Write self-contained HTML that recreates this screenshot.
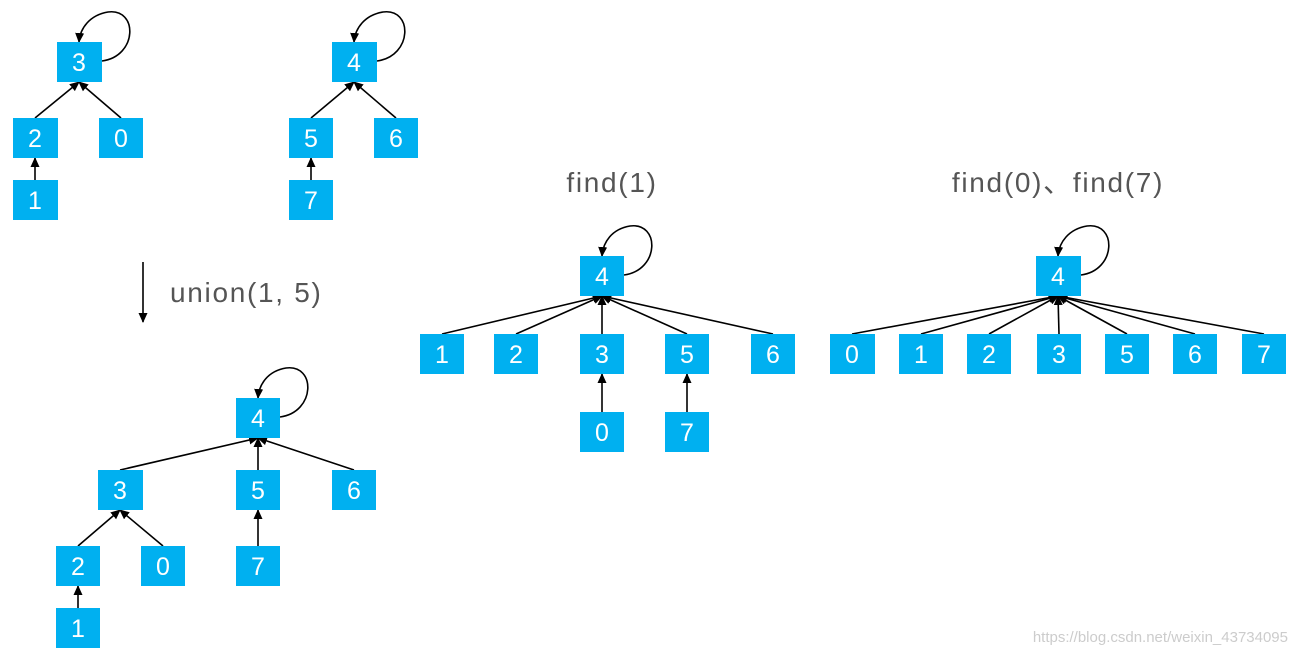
<!DOCTYPE html>
<html><head><meta charset="utf-8"><style>
html,body{margin:0;padding:0;background:#fff;}
svg{display:block}
.b{fill:#00b0f0}
.t{fill:#fff;font-family:"Liberation Sans",sans-serif;font-size:25px;text-anchor:middle}
.e{stroke:#000;stroke-width:1.6;fill:none;marker-end:url(#a)}
.l{font-family:"Liberation Sans","Noto Sans CJK SC",sans-serif;font-size:28px;letter-spacing:1.7px;fill:#555}
</style></head><body>
<svg width="1296" height="658" viewBox="0 0 1296 658">
<defs><marker id="a" markerWidth="10" markerHeight="10" refX="9" refY="5" orient="auto" markerUnits="userSpaceOnUse"><path d="M0,0.5 L10,5 L0,9.5 z" fill="#000"/></marker></defs>
<g class="e">
<line x1="35" y1="118" x2="79" y2="82"/><line x1="121" y1="118" x2="79" y2="82"/><line x1="35" y1="180" x2="35" y2="158"/>
<line x1="311" y1="118" x2="354" y2="82"/><line x1="396" y1="118" x2="354" y2="82"/><line x1="311" y1="180" x2="311" y2="158"/>
<line x1="120" y1="470" x2="258" y2="438"/><line x1="258" y1="470" x2="258" y2="438"/><line x1="354" y1="470" x2="258" y2="438"/>
<line x1="78" y1="546" x2="120" y2="510"/><line x1="163" y1="546" x2="120" y2="510"/><line x1="258" y1="546" x2="258" y2="510"/><line x1="78" y1="608" x2="78" y2="586"/>
<line x1="442" y1="334" x2="602" y2="296"/><line x1="516" y1="334" x2="602" y2="296"/><line x1="602" y1="334" x2="602" y2="296"/><line x1="687" y1="334" x2="602" y2="296"/><line x1="773" y1="334" x2="602" y2="296"/>
<line x1="602" y1="412" x2="602" y2="374"/><line x1="687" y1="412" x2="687" y2="374"/>
<line x1="852" y1="334" x2="1058" y2="296"/><line x1="921" y1="334" x2="1058" y2="296"/><line x1="989" y1="334" x2="1058" y2="296"/><line x1="1059" y1="334" x2="1058" y2="296"/><line x1="1127" y1="334" x2="1058" y2="296"/><line x1="1195" y1="334" x2="1058" y2="296"/><line x1="1264" y1="334" x2="1058" y2="296"/>
<path d="M102,61 C138,56 138,8 108,12 C90,15 80,28 79,42"/>
<path d="M377,61 C413,56 413,8 383,12 C365,15 355,28 354,42"/>
<path d="M280,417 C316,412 316,364 286,368 C268,371 259,384 258,398"/>
<path d="M624,275 C660,270 660,222 630,226 C612,229 603,242 602,256"/>
<path d="M1081,275 C1117,270 1117,222 1087,226 C1069,229 1059,242 1058,256"/>
<line x1="143" y1="262" x2="143" y2="322"/>
</g>
<g>
<rect class="b" x="57" y="42" width="45" height="40"/><text class="t" x="79" y="71">3</text>
<rect class="b" x="13" y="118" width="45" height="40"/><text class="t" x="35" y="147">2</text>
<rect class="b" x="99" y="118" width="44" height="40"/><text class="t" x="121" y="147">0</text>
<rect class="b" x="13" y="180" width="45" height="40"/><text class="t" x="35" y="209">1</text>
<rect class="b" x="332" y="42" width="45" height="40"/><text class="t" x="354" y="71">4</text>
<rect class="b" x="289" y="118" width="44" height="40"/><text class="t" x="311" y="147">5</text>
<rect class="b" x="374" y="118" width="44" height="40"/><text class="t" x="396" y="147">6</text>
<rect class="b" x="289" y="180" width="44" height="40"/><text class="t" x="311" y="209">7</text>
<rect class="b" x="236" y="398" width="44" height="40"/><text class="t" x="258" y="427">4</text>
<rect class="b" x="98" y="470" width="45" height="40"/><text class="t" x="120" y="499">3</text>
<rect class="b" x="236" y="470" width="44" height="40"/><text class="t" x="258" y="499">5</text>
<rect class="b" x="332" y="470" width="44" height="40"/><text class="t" x="354" y="499">6</text>
<rect class="b" x="56" y="546" width="44" height="40"/><text class="t" x="78" y="575">2</text>
<rect class="b" x="141" y="546" width="44" height="40"/><text class="t" x="163" y="575">0</text>
<rect class="b" x="236" y="546" width="44" height="40"/><text class="t" x="258" y="575">7</text>
<rect class="b" x="56" y="608" width="44" height="40"/><text class="t" x="78" y="637">1</text>
<rect class="b" x="580" y="256" width="44" height="40"/><text class="t" x="602" y="285">4</text>
<rect class="b" x="420" y="334" width="44" height="40"/><text class="t" x="442" y="363">1</text>
<rect class="b" x="494" y="334" width="44" height="40"/><text class="t" x="516" y="363">2</text>
<rect class="b" x="580" y="334" width="44" height="40"/><text class="t" x="602" y="363">3</text>
<rect class="b" x="665" y="334" width="44" height="40"/><text class="t" x="687" y="363">5</text>
<rect class="b" x="751" y="334" width="44" height="40"/><text class="t" x="773" y="363">6</text>
<rect class="b" x="580" y="412" width="44" height="40"/><text class="t" x="602" y="441">0</text>
<rect class="b" x="665" y="412" width="44" height="40"/><text class="t" x="687" y="441">7</text>
<rect class="b" x="1036" y="256" width="45" height="40"/><text class="t" x="1058" y="285">4</text>
<rect class="b" x="830" y="334" width="45" height="40"/><text class="t" x="852" y="363">0</text>
<rect class="b" x="899" y="334" width="44" height="40"/><text class="t" x="921" y="363">1</text>
<rect class="b" x="967" y="334" width="44" height="40"/><text class="t" x="989" y="363">2</text>
<rect class="b" x="1037" y="334" width="44" height="40"/><text class="t" x="1059" y="363">3</text>
<rect class="b" x="1105" y="334" width="44" height="40"/><text class="t" x="1127" y="363">5</text>
<rect class="b" x="1173" y="334" width="44" height="40"/><text class="t" x="1195" y="363">6</text>
<rect class="b" x="1242" y="334" width="44" height="40"/><text class="t" x="1264" y="363">7</text>
</g>
<text class="l" x="170" y="302">union(1, 5)</text>
<text class="l" x="612" y="192" text-anchor="middle">find(1)</text>
<text class="l" x="1058" y="192" text-anchor="middle">find(0)、find(7)</text>
<text x="1288" y="642" text-anchor="end" style="font-family:'Liberation Sans',sans-serif;font-size:15px;fill:#ccc">https://blog.csdn.net/weixin_43734095</text>
</svg>
</body></html>
